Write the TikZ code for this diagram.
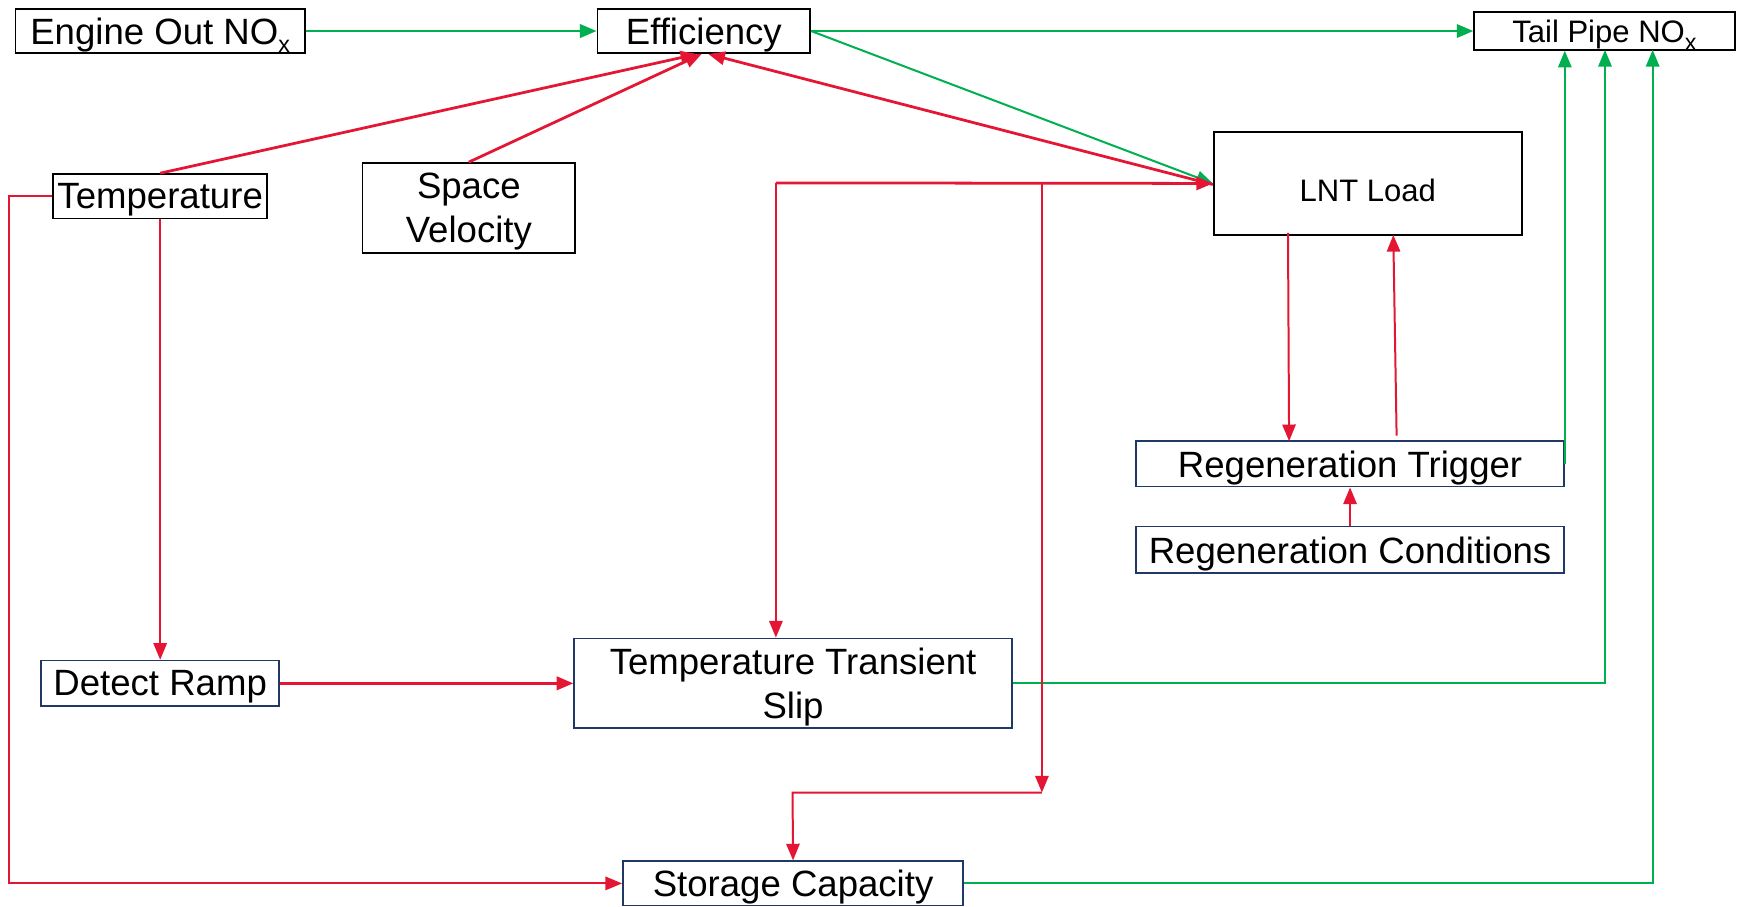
\documentclass[tikz,border=0pt]{standalone}
\usepackage{fontspec}
\setmainfont{Liberation Sans}
\usetikzlibrary{arrows.meta}
\definecolor{lntred}{RGB}{228,22,52}
\definecolor{lntgreen}{RGB}{0,176,80}
\definecolor{lntnavy}{RGB}{31,56,100}
\newcommand{\lowsub}[1]{\raisebox{-7pt}{\fontsize{21}{21}\selectfont #1}}
\tikzset{
  blkbox/.style={draw=black,line width=1.5pt,inner sep=0pt,text depth=0pt,align=center,font=\fontsize{33}{40}\selectfont},
  nvybox/.style={blkbox,draw=lntnavy},
  redarr/.style={draw=lntred,line width=2.5pt,-{Triangle[length=15pt,width=12pt]}},
  redthin/.style={redarr,line width=1.8pt},
  grnarr/.style={draw=lntgreen,line width=2.5pt,-{Triangle[length=15pt,width=12pt]}},
  grnthin/.style={grnarr,line width=1.8pt}
}
\begin{document}
\begin{tikzpicture}[x=1pt,y=-1pt]
  \useasboundingbox (0,0) rectangle (1568,818);

  % top row
  \node[blkbox,minimum width=261pt,minimum height=40pt] (eng) at (144.5,28) {Engine Out NO\lowsub{x}};
  \node[blkbox,minimum width=192pt,minimum height=40pt] (eff) at (635,28) {Efficiency};
  \node[blkbox,minimum width=235pt,minimum height=34pt,font=\fontsize{28}{34}\selectfont] (tail) at (1447.5,28) {Tail Pipe NO\lowsub{x}};

  % inputs to efficiency
  \node[blkbox,minimum width=193pt,minimum height=40pt] (temp) at (144.5,177) {Temperature};
  \node[blkbox,minimum width=192pt,minimum height=81pt] (sv) at (423,187.5) {Space\\Velocity};
  \node[blkbox,minimum width=278pt,minimum height=93pt,font=\fontsize{28}{34}\selectfont] (lnt) at (1234,165.5) {\raisebox{-16pt}[0pt][0pt]{LNT Load}};

  % regeneration
  \node[nvybox,minimum width=386pt,minimum height=41pt] (trig) at (1218,418.5) {Regeneration Trigger};
  \node[nvybox,minimum width=386pt,minimum height=42pt] (cond) at (1218,496) {Regeneration Conditions};

  % lower row
  \node[nvybox,minimum width=215pt,minimum height=41pt] (ramp) at (144.5,616.5) {Detect Ramp};
  \node[nvybox,minimum width=395pt,minimum height=81pt] (tts) at (715.5,616.5) {Temperature Transient\\Slip};
  \node[nvybox,minimum width=307pt,minimum height=40pt] (stor) at (715.5,797) {Storage Capacity};

  \coordinate (j1) at (700,165);
  \coordinate (j2) at (940,166);
  \coordinate (j3) at (940,715);

  % green paths
  \draw[grnarr] (eng) -- (eff);
  \draw[grnarr] (eff) -- (tail);
  \draw[grnthin] (eff.east) -- (lnt.west);
  \draw[grnthin] (trig.east) -- (trig.east |- tail.south);
  \draw[grnthin] (tts.east) -- (1448,616.5) -- (1448,45);
  \draw[grnthin] (stor.east) -- (1491,797) -- (1491,45);

  % red paths
  \draw[redarr] (temp.north) -- ([xshift=-6pt]eff.south);
  \draw[redarr] (sv.north) -- ([xshift=-2pt]eff.south);
  \draw[redarr] ([yshift=-1pt]lnt.west) -- ([xshift=4pt]eff.south);
  \draw[redarr] (j1) -- (lnt.west);
  \draw[redthin] (j1) -- (j1 |- tts.north);
  \draw[redthin] (j2) -- (j3);
  \draw[redthin] (j3) -- (715,715) -- (stor.north);
  \draw[redthin] (temp.west) -- (8,177) -- (8,797) -- (stor.west);
  \draw[redthin] (temp.south) -- (ramp.north);
  \draw[redarr] (ramp) -- (tts);
  \draw[redthin] (1162,210) -- (1163,398);
  \draw[redthin] (1260,393) -- (1257,212);
  \draw[redthin] (cond.north) -- (trig.south);
\end{tikzpicture}
\end{document}
